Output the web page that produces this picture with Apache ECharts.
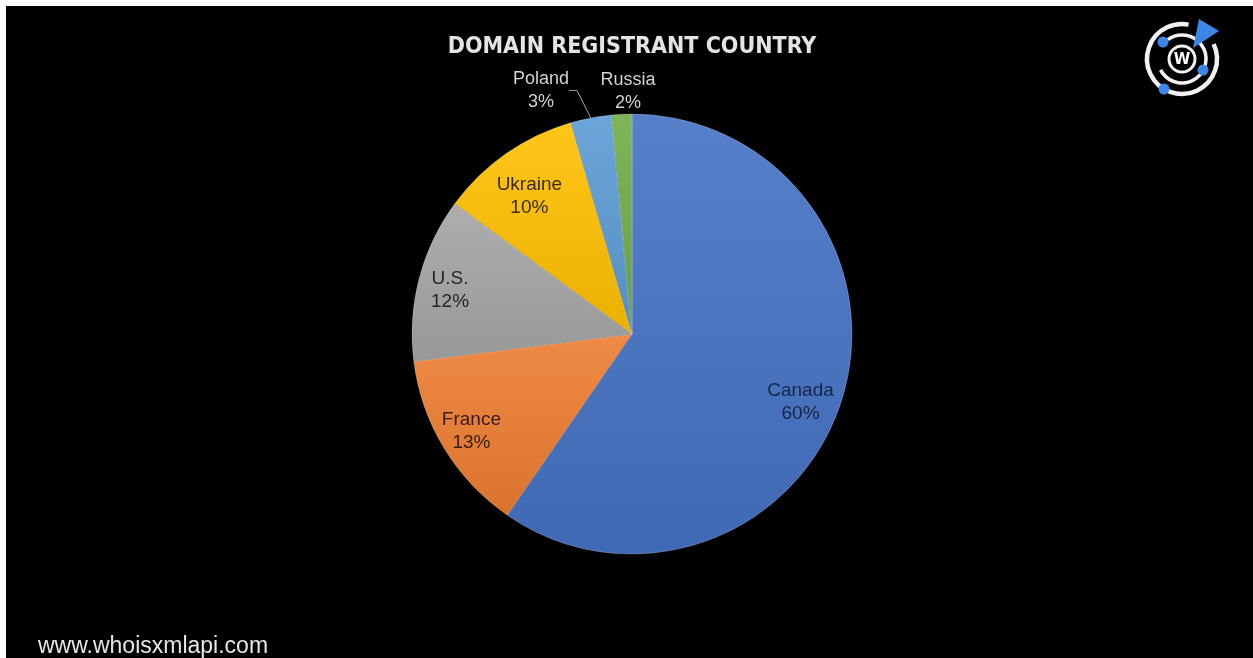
<!DOCTYPE html>
<html>
<head>
<meta charset="utf-8">
<script src="https://cdn.jsdelivr.net/npm/echarts@6/dist/echarts.min.js"></script>
<style>
html,body{margin:0;padding:0;background:#fff;}
#chart{width:1253px;height:658px;}
</style>
</head>
<body>
<div id="chart"></div>
<script>
const countries = ['Canada', 'France', 'U.S.', 'Ukraine', 'Poland', 'Russia'];
const shares = [59.6, 13.4, 12.1, 10.4, 3.0, 1.5];
const palette = ['#4472C4', '#ED7D31', '#A5A5A5', '#FFC000', '#5B9BD5', '#70AD47'];
const insideLabelColors = ['#16244a', '#3a1d08', '#262626', '#3b2c00', '#1a1a1a', '#1a1a1a'];
const outsideLabels = ['Poland', 'Russia'];

function lighten(hex, amt) {
  const n = parseInt(hex.slice(1), 16);
  let r = (n >> 16) & 255, g = (n >> 8) & 255, b = n & 255;
  const f = c => Math.max(0, Math.min(255, Math.round(amt >= 0 ? c + (255 - c) * amt : c * (1 + amt))));
  return 'rgb(' + f(r) + ',' + f(g) + ',' + f(b) + ')';
}
function grad(hex) {
  return new echarts.graphic.LinearGradient(0, 0, 0, 1, [
    {offset: 0, color: lighten(hex, 0.1)},
    {offset: 1, color: lighten(hex, -0.08)}
  ]);
}

const mainData = countries.map((name, i) => ({
  name: name,
  value: shares[i],
  itemStyle: {color: grad(palette[i])},
  label: {show: outsideLabels.indexOf(name) >= 0},
  labelLine: {show: name === 'Poland'}
}));
const overlayData = countries.map((name, i) => ({
  name: name,
  value: shares[i],
  label: {show: outsideLabels.indexOf(name) < 0, color: insideLabelColors[i]}
}));

const chart = echarts.init(document.getElementById('chart'), null, {renderer: 'canvas'});
chart.setOption({
  backgroundColor: '#ffffff',
  animation: false,
  title: {
    text: 'DOMAIN REGISTRANT COUNTRY',
    left: 632,
    top: 36,
    padding: 0,
    textAlign: 'center',
    textStyle: {
      color: '#e4e4e4',
      fontFamily: 'DejaVu Sans Condensed',
      fontWeight: 'bold',
      fontSize: 23
    }
  },
  graphic: [
    {type: 'rect', z: -100, silent: true, shape: {x: 6, y: 6, width: 1247, height: 652}, style: {fill: '#000'}},
    {type: 'text', left: 38, top: 635, style: {text: 'www.whoisxmlapi.com', fill: '#e6e6e6', font: '23px "Liberation Sans"'}},
    // logo
    {type: 'arc', shape: {cx: 1182, cy: 59, r: 35, startAngle: -Math.PI * 0.14, endAngle: Math.PI * 1.56, clockwise: true}, style: {stroke: '#f2f2f2', lineWidth: 4.5, fill: null}},
    {type: 'arc', shape: {cx: 1182, cy: 59, r: 24, startAngle: Math.PI * 1.3, endAngle: Math.PI * 0.85, clockwise: true}, style: {stroke: '#f2f2f2', lineWidth: 3.5, fill: null}},
    {type: 'circle', shape: {cx: 1182, cy: 59, r: 13}, style: {stroke: '#f2f2f2', lineWidth: 3, fill: '#000'}},
    {type: 'text', x: 1182, y: 60, style: {text: 'W', fill: '#ffffff', font: 'bold 15px "DejaVu Sans"', align: 'center', verticalAlign: 'middle'}},
    {type: 'polygon', shape: {points: [[1199, 19], [1219, 31], [1193, 48]]}, style: {fill: '#3d86e8'}},
    {type: 'circle', shape: {cx: 1163, cy: 42, r: 5.5}, style: {fill: '#3d86e8'}},
    {type: 'circle', shape: {cx: 1203, cy: 70, r: 5.5}, style: {fill: '#3d86e8'}},
    {type: 'circle', shape: {cx: 1164, cy: 89, r: 5.5}, style: {fill: '#3d86e8'}}
  ],
  series: [
    {
      type: 'pie',
      center: [632, 334],
      radius: 220,
      startAngle: 90,
      clockwise: true,
      avoidLabelOverlap: false,
      data: mainData,
      itemStyle: {borderColor: 'rgba(255,255,255,0.35)', borderWidth: 0.6},
      label: {
        position: 'outside',
        formatter: p => p.name + '\n' + Math.round(p.percent) + '%',
        color: '#d2d2d2',
        fontFamily: 'Liberation Sans',
        fontSize: 18,
        lineHeight: 23
      },
      labelLine: {length: 36, length2: 8, lineStyle: {color: '#a0a0a0', width: 1}},
      labelLayout: function (p) {
        if (p.dataIndex === 4) {
          return {align: 'center', verticalAlign: 'middle', x: p.labelRect.x + p.labelRect.width / 2 - 2, y: p.labelRect.y + p.labelRect.height / 2 + 8};
        }
        if (p.dataIndex === 5) {
          return {align: 'center', verticalAlign: 'middle', x: 628, y: 92};
        }
        return {};
      },
      emphasis: {disabled: true}
    },
    {
      type: 'pie',
      center: [632, 334],
      radius: [155, 215],
      startAngle: 90,
      clockwise: true,
      silent: true,
      data: overlayData,
      itemStyle: {color: 'rgba(0,0,0,0)'},
      label: {
        position: 'inside',
        formatter: p => p.name + '\n' + Math.round(p.percent) + '%',
        fontFamily: 'Liberation Sans',
        fontSize: 19,
        lineHeight: 23
      },
      labelLayout: function (p) {
        const nudge = {0: [-11, 12], 2: [0, 4], 3: [5, 16]}[p.dataIndex];
        return nudge ? {dx: nudge[0], dy: nudge[1]} : {};
      },
      labelLine: {show: false},
      emphasis: {disabled: true}
    }
  ]
});
</script>
</body>
</html>
